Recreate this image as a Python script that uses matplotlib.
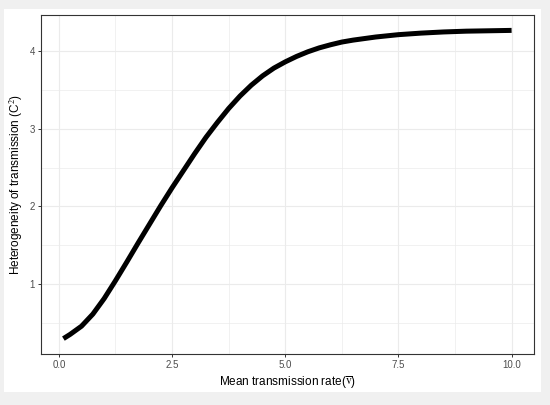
import matplotlib.pyplot as plt
from matplotlib.patches import Rectangle
from matplotlib import ticker

# values
rate = [0.10, 0.25, 0.50, 0.75, 1.00, 1.25, 1.50, 1.75, 2.00, 2.25, 2.50,
        2.75, 3.00, 3.25, 3.50, 3.75, 4.00, 4.25, 4.50, 4.75, 5.00, 5.25,
        5.50, 5.75, 6.00, 6.25, 6.50, 7.00, 7.50, 8.00, 8.50, 9.00, 9.50,
        10.00]
heterogeneity = [0.30, 0.355, 0.46, 0.615, 0.815, 1.045, 1.285, 1.53, 1.77,
                 2.01, 2.24, 2.46, 2.68, 2.89, 3.08, 3.26, 3.42, 3.56, 3.68,
                 3.78, 3.86, 3.93, 3.99, 4.04, 4.08, 4.115, 4.14, 4.18, 4.21,
                 4.23, 4.245, 4.255, 4.26, 4.265]
x_ticks = [0.0, 2.5, 5.0, 7.5, 10.0]
y_ticks = [1, 2, 3, 4]

plt.rcParams['font.family'] = ['Liberation Sans', 'DejaVu Sans']
plt.rcParams['mathtext.fontset'] = 'stix'

fig = plt.figure(figsize=(5.5, 4.05), dpi=100, facecolor='#f0f0f0')
# white card behind the plot
fig.patches.append(Rectangle((4 / 550, 1 - 392 / 405), 537 / 550, 383 / 405,
                             transform=fig.transFigure, facecolor='white',
                             edgecolor='none', zorder=-5))

ax = fig.add_axes([41 / 550, 51 / 405, 493 / 550, 339 / 405])
ax.set_facecolor('white')

ax.plot(rate, heterogeneity, color='black', linewidth=3.6,
        solid_capstyle='butt', solid_joinstyle='round', zorder=3)

ax.set_xlim(-0.395, 10.495)
ax.set_ylim(0.102, 4.463)
ax.set_xticks(x_ticks)
ax.set_xticklabels(['0.0', '2.5', '5.0', '7.5', '10.0'])
ax.set_yticks(y_ticks)
ax.xaxis.set_minor_locator(ticker.MultipleLocator(1.25))
ax.yaxis.set_minor_locator(ticker.MultipleLocator(0.5))

ax.grid(which='major', color='#ebebeb', linewidth=0.8)
ax.grid(which='minor', color='#ebebeb', linewidth=0.5)
ax.set_axisbelow(True)

for s in ax.spines.values():
    s.set_color('#333333')
    s.set_linewidth(0.8)

ax.tick_params(which='major', length=2.5, width=0.7, color='#333333',
               labelcolor='#4d4d4d', labelsize=7, pad=2)
ax.tick_params(which='minor', length=0)

ax.set_xlabel(r'Mean transmission rate($\overline{\mathrm{v}}$)',
              fontsize=8.5, labelpad=3)
ax.set_ylabel(r'Heterogeneity of transmission (C$^2$)', fontsize=8.5,
              labelpad=3.5)

fig.savefig('out.png', dpi=100, facecolor=fig.get_facecolor())
